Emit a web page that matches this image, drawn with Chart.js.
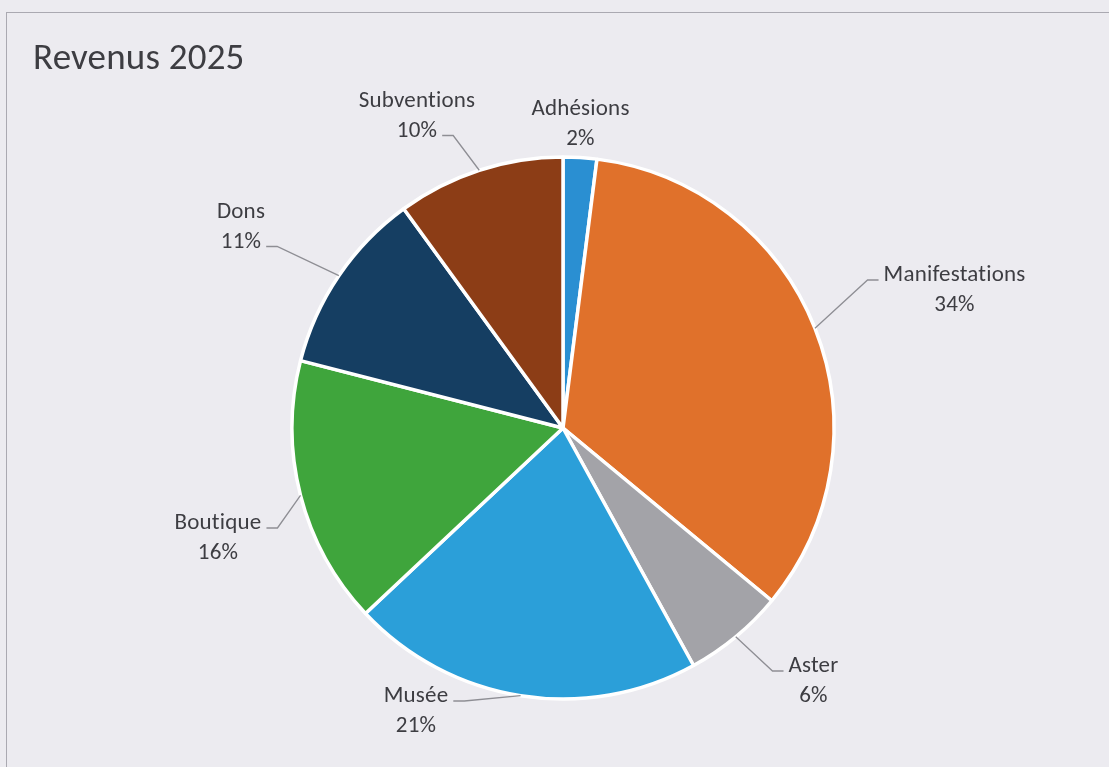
<!DOCTYPE html>
<html><head><meta charset="utf-8">
<script src="https://cdn.jsdelivr.net/npm/chart.js@4.4.1/dist/chart.umd.min.js"></script>
<style>
html,body{margin:0;padding:0;background:#ecebf0;overflow:hidden;}
#wrap{position:relative;width:1109px;height:767px;overflow:hidden;}
#frame{position:absolute;left:6px;top:12px;width:1200px;height:900px;border:1px solid #aaa9b1;}
canvas{position:absolute;left:0;top:0;}
</style></head><body>
<div id="wrap"><div id="frame"></div><canvas id="c" width="1109" height="767"></canvas></div>
<script>
const chartTitle = 'Revenus 2025';
const categories = ['Adhésions','Manifestations','Aster','Musée','Boutique','Dons','Subventions'];
const percentages = [2, 34, 6, 21, 16, 11, 10];
const sliceColors = ['#2a8fd2','#e0712b','#a3a3a8','#2b9fd9','#3fa53c','#153e62','#8c3d16'];

// label placement relative to pie centre (baseline of first line), and which line the leader attaches to
const labelLayout = [
  {dx: 17.5, dy: -313, line: -1},
  {dx: 391.5, dy: -147, line: 0},
  {dx: 250.5, dy: 244, line: 0},
  {dx: -147, dy: 274, line: 0},
  {dx: -345, dy: 101, line: 0},
  {dx: -322, dy: -210, line: 1},
  {dx: -146, dy: -321, line: 1}
];

const FONT = "'Carlito','Lato','Open Sans',sans-serif";
const TEXT = '#3d3d42';

const labelPlugin = {
  id: 'labels',
  afterDraw(chart) {
    const ctx = chart.ctx;
    ctx.save();
    if ('letterSpacing' in ctx) ctx.letterSpacing = '0.2px';
    ctx.fillStyle = TEXT;
    ctx.font = "37px " + FONT;
    ctx.textAlign = 'left';
    ctx.textBaseline = 'alphabetic';
    ctx.fillText(chartTitle, 33, 69);

    const meta = chart.getDatasetMeta(0);
    ctx.font = "23px " + FONT;
    ctx.textAlign = 'center';
    const lh = 29.5;
    meta.data.forEach((arc, i) => {
      const p = arc.getProps(['x','y','startAngle','endAngle','outerRadius'], true);
      const L = labelLayout[i];
      const cx = p.x + L.dx, by = p.y + L.dy;
      const lines = [categories[i], percentages[i] + '%'];
      ctx.fillStyle = TEXT;
      lines.forEach((t, k) => ctx.fillText(t, cx, by + k * lh));
      if (L.line < 0) return;
      const mid = (p.startAngle + p.endAngle) / 2;
      const ex = p.x + Math.cos(mid) * p.outerRadius;
      const ey = p.y + Math.sin(mid) * p.outerRadius;
      const w = ctx.measureText(lines[L.line]).width;
      const ty = by + L.line * lh - 1;
      const dir = ex > cx ? 1 : -1;
      const tx = cx + dir * (w / 2 + 5);
      const elx = tx + dir * 11;
      ctx.strokeStyle = '#8e8e94';
      ctx.lineWidth = 1.3;
      ctx.beginPath();
      ctx.moveTo(tx, ty);
      ctx.lineTo(elx, ty);
      ctx.lineTo(ex, ey);
      ctx.stroke();
    });
    ctx.restore();
  }
};

new Chart(document.getElementById('c'), {
  type: 'pie',
  data: {
    labels: categories,
    datasets: [{
      data: percentages,
      backgroundColor: sliceColors,
      borderColor: '#ffffff',
      borderWidth: 3.5,
      radius: 271
    }]
  },
  options: {
    responsive: false,
    animation: false,
    devicePixelRatio: 1,
    layout: {padding: {left: 60, right: 43, top: 120, bottom: 31}},
    plugins: {legend: {display: false}, tooltip: {enabled: false}, title: {display: false}}
  },
  plugins: [labelPlugin]
});
</script>
</body></html>
